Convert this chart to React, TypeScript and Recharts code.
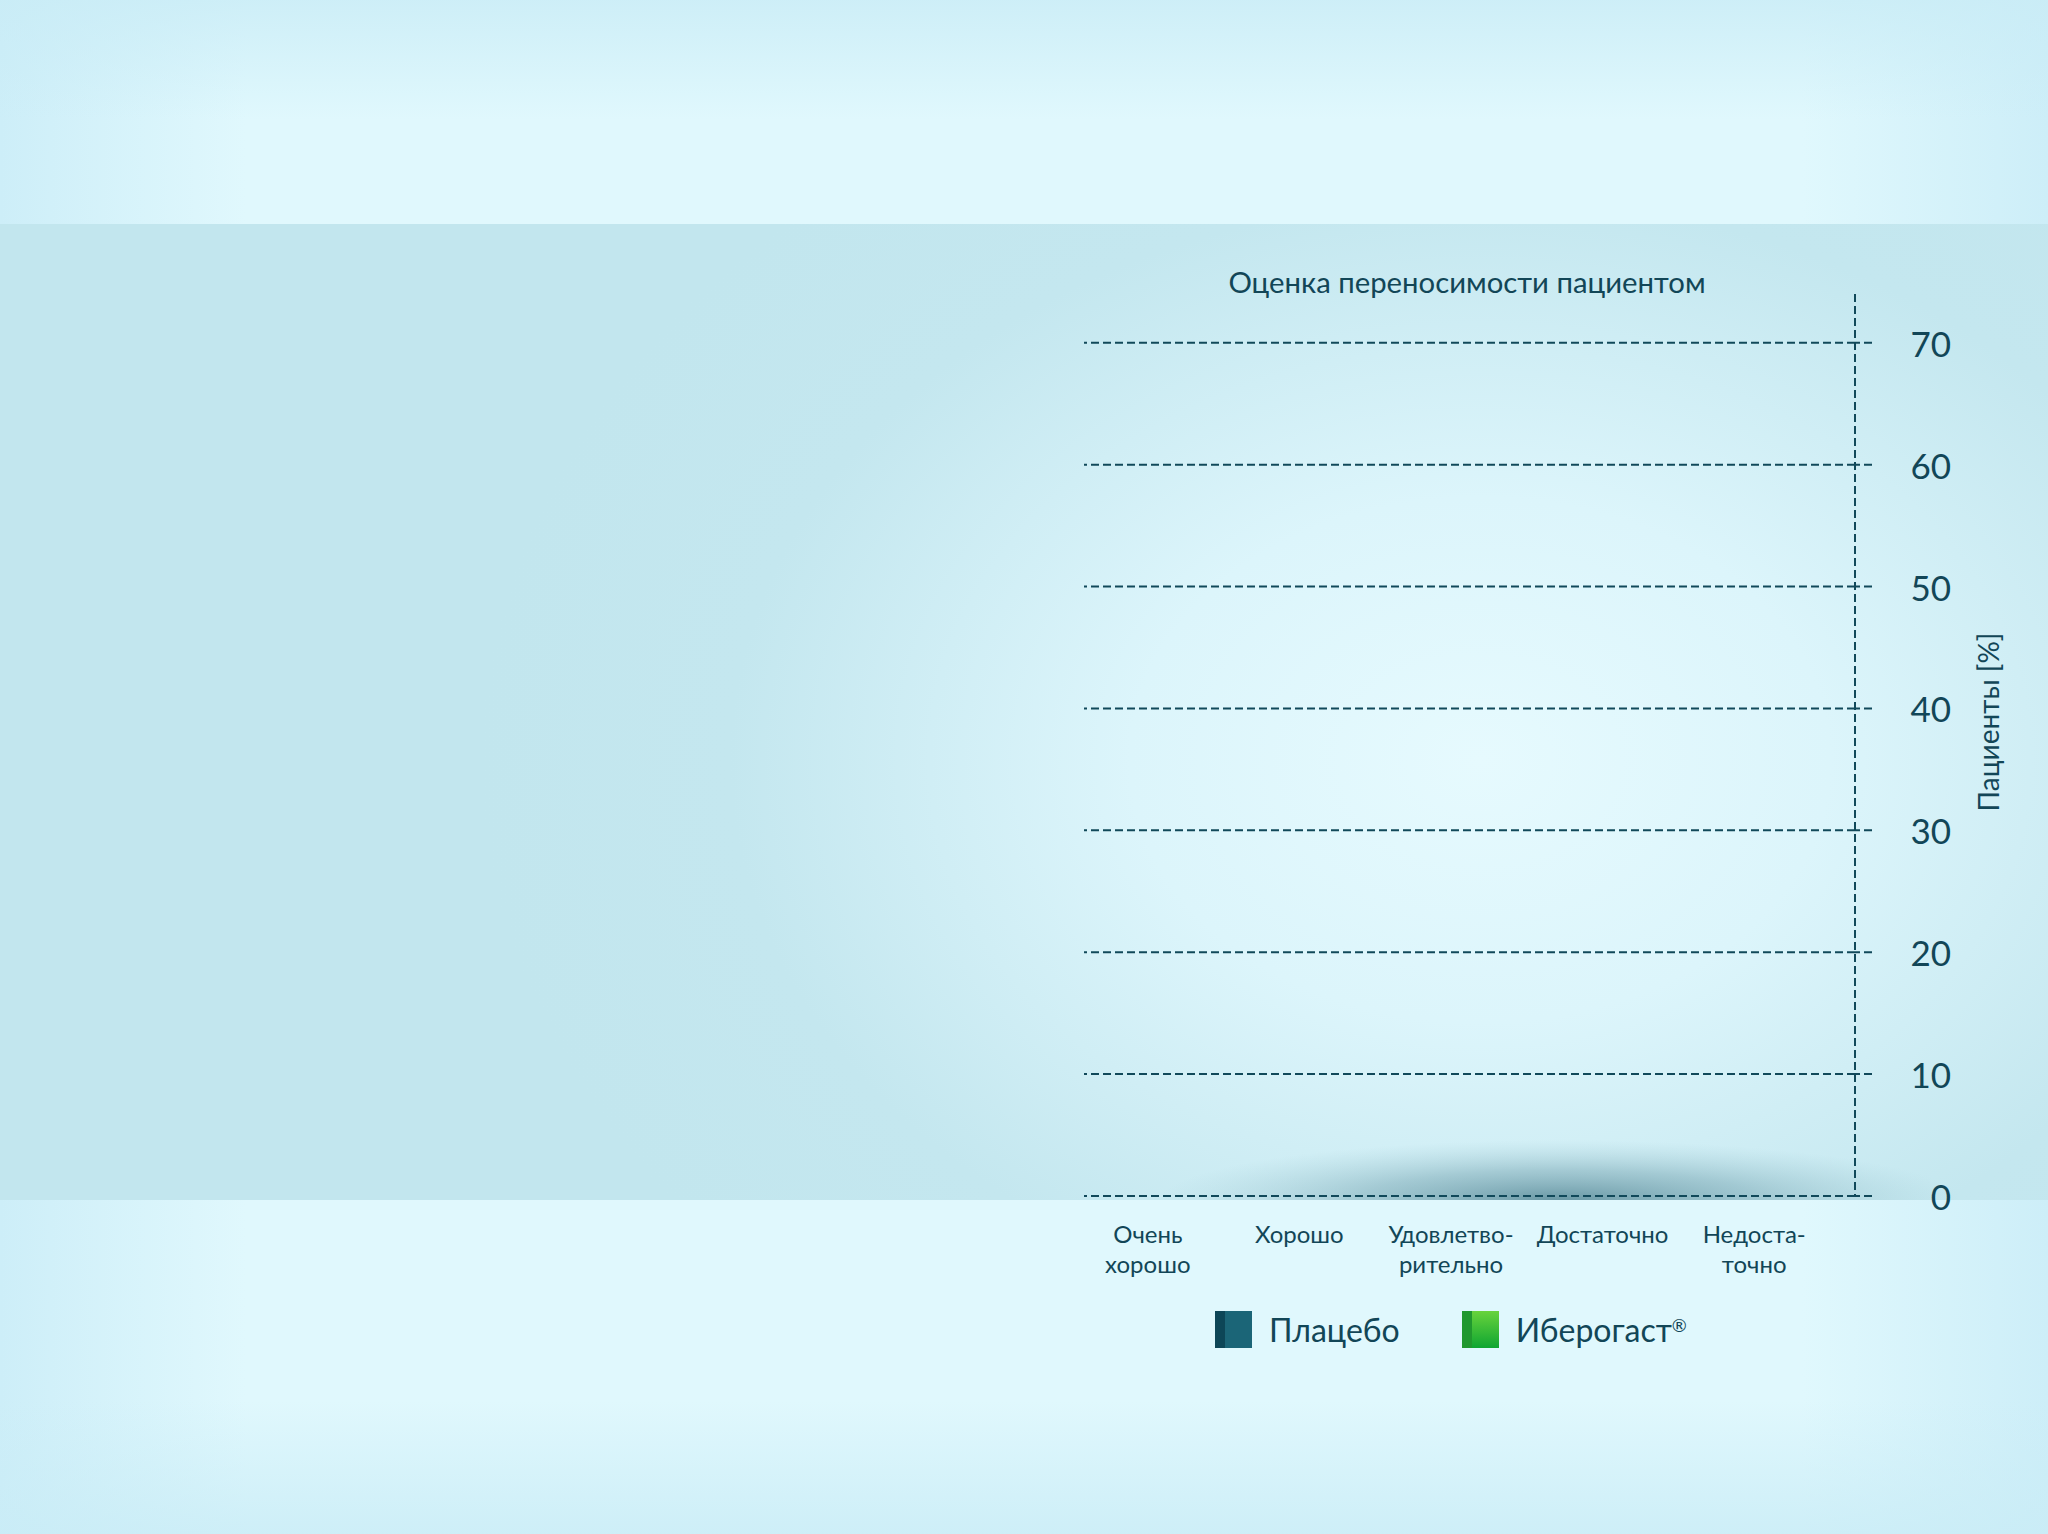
import React from "react";
import { BarChart, Bar, XAxis, YAxis, ReferenceLine, Legend } from "recharts";

const categories = ["Очень\nхорошо", "Хорошо", "Удовлетво-\nрительно", "Достаточно", "Недоста-\nточно"];
const placeboValues = [0, 0, 0, 0, 0];
const iberogastValues = [0, 0, 0, 0, 0];
const yTicks = [0, 10, 20, 30, 40, 50, 60, 70];
const seriesNames = ["Плацебо", "Иберогаст"];
const seriesMarks = ["", "®"];
const titleText = "Оценка переносимости пациентом";
const yAxisLabel = "Пациенты [%]";

const data = categories.map((c, i) => ({ cat: c, placebo: placeboValues[i], iberogast: iberogastValues[i] }));

const TEXT = "#124657";
const GRID = "#11495a";
const FONT = "Lato, 'Open Sans', sans-serif";
const DASH = "8 4";

const XTick = (props: any) => {
  const { x, y, payload } = props;
  const lines = String(payload.value).split("\n");
  return (
    <g transform={`translate(${x},${y + 29})`}>
      {lines.map((l: string, i: number) => (
        <text key={i} x={0} y={i * 30} textAnchor="middle" dominantBaseline="central" fill={TEXT} fontSize={24} fontFamily={FONT}>
          {l}
        </text>
      ))}
    </g>
  );
};

const YTick = (props: any) => {
  const { y, payload } = props;
  return (
    <text x={1951} y={y} textAnchor="end" dominantBaseline="central" fill={TEXT} fontSize={35} fontFamily={FONT}>
      {payload.value}
    </text>
  );
};

const swatch = (i: number) => {
  if (i === 0) {
    return { background: "linear-gradient(to right, #0d4657 0, #0d4657 26%, #1b6577 26%, #1b6577 100%)" };
  }
  return {
    background:
      "linear-gradient(to right, #21982f 0, #21982f 26%, transparent 26%), linear-gradient(to bottom, #68d33c, #0fa532)",
  };
};

const renderLegend = () => (
  <div style={{ display: "flex", alignItems: "center", fontFamily: FONT }}>
    {seriesNames.map((n, i) => (
      <div key={n} style={{ display: "flex", alignItems: "center", marginRight: i === 0 ? 62 : 0 }}>
        <div style={{ width: 37, height: 37, ...swatch(i) }} />
        <span style={{ marginLeft: 17, fontSize: 32, color: TEXT, lineHeight: "37px", whiteSpace: "nowrap" }}>
          {n}
          {seriesMarks[i] ? (
            <span style={{ fontSize: 18, verticalAlign: "top", position: "relative", top: -4 }}>{seriesMarks[i]}</span>
          ) : null}
        </span>
      </div>
    ))}
  </div>
);

export default function App() {
  return (
    <div style={{ position: "absolute", left: 0, top: 0, width: 2048, height: 1534, overflow: "hidden" }}>
      <style>{"body{margin:0}"}</style>
      <svg width={2048} height={1534} style={{ position: "absolute", left: 0, top: 0 }}>
        <defs>
          <linearGradient id="bandH" x1="0" x2="1" y1="0" y2="0">
            <stop offset="0" stopColor="#cdeef8" />
            <stop offset="0.12" stopColor="#e0f8fd" />
            <stop offset="0.88" stopColor="#e0f8fd" />
            <stop offset="1" stopColor="#cdeef8" />
          </linearGradient>
          <linearGradient id="bandV" x1="0" x2="0" y1="0" y2="1">
            <stop offset="0" stopColor="#c9ecf6" stopOpacity="0.8" />
            <stop offset="1" stopColor="#c9ecf6" stopOpacity="0" />
          </linearGradient>
          <linearGradient id="bandV2" x1="0" x2="0" y1="0" y2="1">
            <stop offset="0" stopColor="#c9ecf6" stopOpacity="0" />
            <stop offset="1" stopColor="#c9ecf6" stopOpacity="0.8" />
          </linearGradient>
          <radialGradient id="mid" cx="1480" cy="760" r="1000" gradientUnits="userSpaceOnUse" gradientTransform="translate(1480 760) scale(1 0.75) translate(-1480 -760)">
            <stop offset="0" stopColor="#e6fafe" />
            <stop offset="0.35" stopColor="#dcf5fb" />
            <stop offset="0.75" stopColor="#c4e7ef" />
            <stop offset="1" stopColor="#c2e6ee" />
          </radialGradient>
          <radialGradient id="shadow" cx="1560" cy="1200" r="400" gradientUnits="userSpaceOnUse" gradientTransform="translate(1560 1200) scale(1 0.15) translate(-1560 -1200)">
            <stop offset="0" stopColor="#3f7483" stopOpacity="0.7" />
            <stop offset="0.5" stopColor="#5d909e" stopOpacity="0.38" />
            <stop offset="1" stopColor="#8fbcc6" stopOpacity="0" />
          </radialGradient>
        </defs>
        <rect x={0} y={0} width={2048} height={224} fill="url(#bandH)" />
        <rect x={0} y={0} width={2048} height={120} fill="url(#bandV)" />
        <rect x={0} y={224} width={2048} height={976} fill="url(#mid)" />
        <rect x={1100} y={1100} width={900} height={100} fill="url(#shadow)" />
        <rect x={0} y={1200} width={2048} height={334} fill="url(#bandH)" />
        <rect x={0} y={1400} width={2048} height={134} fill="url(#bandV2)" />
      </svg>
      <div
        style={{
          position: "absolute",
          left: 1467,
          top: 281,
          transform: "translate(-50%, -50%)",
          whiteSpace: "nowrap",
          fontFamily: FONT,
          fontSize: 29.3,
          color: TEXT,
        }}
      >
        {titleText}
      </div>
      <div style={{ position: "absolute", left: 0, top: 0 }}>
        <BarChart width={2048} height={1534} data={data} margin={{ top: 294, right: 93, bottom: 201, left: 1084 }} barCategoryGap="20%">
          <XAxis
            dataKey="cat"
            axisLine={false}
            tickLine={false}
            tick={<XTick />}
            interval={0}
            height={100}
            padding={{ left: -12, right: 25 }}
          />
          <YAxis
            orientation="right"
            domain={[0, 74]}
            ticks={yTicks}
            width={100}
            axisLine={{ stroke: GRID, strokeDasharray: DASH, strokeWidth: 2 }}
            tickLine={{ stroke: GRID, strokeDasharray: DASH, strokeWidth: 2 }}
            tickSize={17}
            tick={<YTick />}
            label={{
              value: yAxisLabel,
              content: () => (
                <text
                  x={1988}
                  y={722}
                  transform="rotate(-90 1988 722)"
                  textAnchor="middle"
                  dominantBaseline="central"
                  fill={TEXT}
                  fontSize={28}
                  fontFamily={FONT}
                >
                  {yAxisLabel}
                </text>
              ),
            }}
          />
          {yTicks.map((t) => (
            <ReferenceLine key={t} y={t} stroke={GRID} strokeDasharray={DASH} strokeWidth={2} />
          ))}
          <Bar dataKey="placebo" name={seriesNames[0]} fill="#1b6577" isAnimationActive={false} />
          <Bar dataKey="iberogast" name={seriesNames[1]} fill="#3fbf38" isAnimationActive={false} />
          <Legend content={renderLegend} wrapperStyle={{ position: "absolute", left: 1215, top: 1311, width: "auto", height: 37 }} />
        </BarChart>
      </div>
    </div>
  );
}
